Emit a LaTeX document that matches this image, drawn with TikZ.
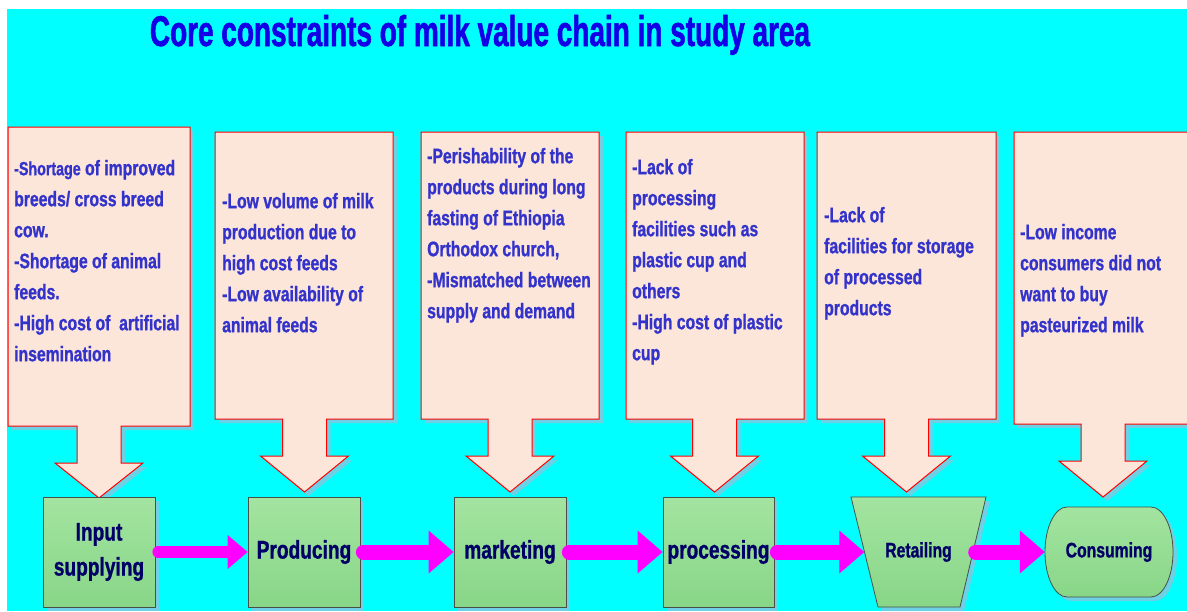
\documentclass[tikz,border=0pt]{standalone}
\usepackage{fontspec}
\newfontfamily\nar{Liberation Sans}[FakeStretch=0.75, BoldFeatures={FakeBold=1}]
\newfontfamily\tit{Liberation Sans}[FakeStretch=0.65, BoldFeatures={FakeBold=1.2}]
\usetikzlibrary{arrows.meta,calc,shadows}
\definecolor{bgcyan}{RGB}{0,255,255}
\definecolor{peach}{RGB}{252,230,218}
\definecolor{boxtxt}{RGB}{51,51,204}
\definecolor{titleblue}{RGB}{20,0,230}
\definecolor{navy}{RGB}{0,0,102}
\definecolor{gtop}{RGB}{163,228,160}
\definecolor{gbot}{RGB}{136,214,136}
\definecolor{shadowblue}{RGB}{110,208,228}
\definecolor{mag}{RGB}{255,0,255}
\definecolor{gborder}{RGB}{70,80,70}
\newcommand\mycallout[7]{%
  \fill[shadowblue,shift={(4,4)}] (#1,#2) -- (#3,#2) -- (#3,#4) -- (#5+22,#4) -- (#5+22,#6) -- (#5+44,#6) -- (#5,#7) -- (#5-44,#6) -- (#5-22,#6) -- (#5-22,#4) -- (#1,#4) -- cycle;
  \filldraw[fill=peach,draw=red,line width=1] (#1,#2) -- (#3,#2) -- (#3,#4) -- (#5+22,#4) -- (#5+22,#6) -- (#5+44,#6) -- (#5,#7) -- (#5-44,#6) -- (#5-22,#6) -- (#5-22,#4) -- (#1,#4) -- cycle;
}
\tikzset{
  boxtext/.style={font=\nar\bfseries\fontsize{21}{31}\selectfont, text=boxtxt, align=left, inner sep=0, anchor=north west},
  gnode/.style={draw=gborder, line width=0.8, top color=gtop, bottom color=gbot, minimum width=112, minimum height=110, inner sep=0, font=\nar\bfseries\fontsize{25.5}{35}\selectfont, text=navy, align=center, drop shadow={shadow xshift=4pt, shadow yshift=-4pt, fill=shadowblue, opacity=1}},
  plainnode/.style={inner sep=0, font=\nar\bfseries\fontsize{21}{30}\selectfont, text=navy, align=center},
  flow/.style={draw=mag, line width=15, line cap=round, -{Triangle[length=25pt, width=43pt, line width=0pt]}},
  flowsmall/.style={draw=mag, line width=12, line cap=round, -{Triangle[length=20pt, width=34pt, line width=0pt]}}
}
\begin{document}
\begin{tikzpicture}[x=1pt,y=-1pt]
\useasboundingbox (0,0) rectangle (1187,611);
\clip (0,0) rectangle (1187,611);
\fill[white] (0,0) rectangle (1187,611);
\fill[bgcyan] (7,9) rectangle (1187,611);
\node[font=\tit\bfseries\fontsize{43}{50}\selectfont, text=titleblue, anchor=base, inner sep=0] (title) at (480,46) {Core constraints of milk value chain in study area};
% callouts
\mycallout{8}{127}{190}{426}{99}{463}{498}
\mycallout{215}{132}{393}{419}{304.5}{456}{492}
\mycallout{421}{132}{599}{419}{510}{456}{492}
\mycallout{626}{132}{804}{419}{714.5}{456}{492}
\mycallout{817}{132}{996}{419}{906.5}{456}{492}
\mycallout{1014}{132}{1195}{424}{1103}{461}{497}
\node[boxtext] (t1) at (14,159) {\rule{0pt}{16pt}{\fontsize{19}{31}\selectfont -Shortage} of improved\\breeds/ cross breed\\cow.\\-Shortage of animal\\feeds.\\-High cost of\ \ artificial\\insemination};
\node[boxtext] (t2) at (222,192) {\rule{0pt}{16pt}-Low volume of milk\\production due to\\high cost feeds\\-Low availability of\\animal feeds};
\node[boxtext] (t3) at (427,147) {\rule{0pt}{16pt}-Perishability of the\\products during long\\fasting of Ethiopia\\Orthodox church,\\-Mismatched between\\supply and demand};
\node[boxtext] (t4) at (632,158) {\rule{0pt}{16pt}-Lack of\\processing\\facilities such as\\plastic cup and\\others\\-High cost of plastic\\cup};
\node[boxtext] (t5) at (824,206) {\rule{0pt}{16pt}-Lack of\\facilities for storage\\of processed\\products};
\node[boxtext] (t6) at (1020,223) {\rule{0pt}{16pt}-Low income\\consumers did not\\want to buy\\pasteurized milk};
% chain nodes
\node[gnode] (n1) at (99,552) {Input\\supplying};
\node[gnode] (n2) at (304,552) {Producing};
\node[gnode] (n3) at (510,552) {marketing};
\node[gnode, minimum width=111] (n4) at (718.5,552) {processing};
% trapezium retailing
\fill[shadowblue,shift={(4,4)}] (851,497) -- (986,497) -- (960,607) -- (878,607) -- cycle;
\shade[top color=gtop, bottom color=gbot, draw=gborder, line width=0.8] (851,497) -- (986,497) -- (960,607) -- (878,607) -- cycle;
\node[plainnode, minimum width=108, minimum height=110] (n5) at (918.5,552) {Retailing};
% stadium consuming
\fill[shadowblue,shift={(4,4)}] (1067,507) -- (1151,507) arc[start angle=-90,end angle=90,x radius=22,y radius=45] -- (1067,597) arc[start angle=90,end angle=270,x radius=22,y radius=45] -- cycle;
\shade[top color=gtop, bottom color=gbot, draw=gborder, line width=0.8] (1067,507) -- (1151,507) arc[start angle=-90,end angle=90,x radius=22,y radius=45] -- (1067,597) arc[start angle=90,end angle=270,x radius=22,y radius=45] -- cycle;
\node[plainnode, minimum width=128, minimum height=90] (n6) at (1109,552) {Consuming};
% flow arrows
\draw[flowsmall] ($(n1.east)+(3,0)$) -- (n2.west);
\draw[flow] ($(n2.east)+(3,0)$) -- (n3.west);
\draw[flow] ($(n3.east)+(3,0)$) -- (n4.west);
\draw[flow] ($(n4.east)+(3,0)$) -- (n5.west);
\draw[flow] ($(n5.east)+(3,0)$) -- (n6.west);
\end{tikzpicture}
\end{document}
